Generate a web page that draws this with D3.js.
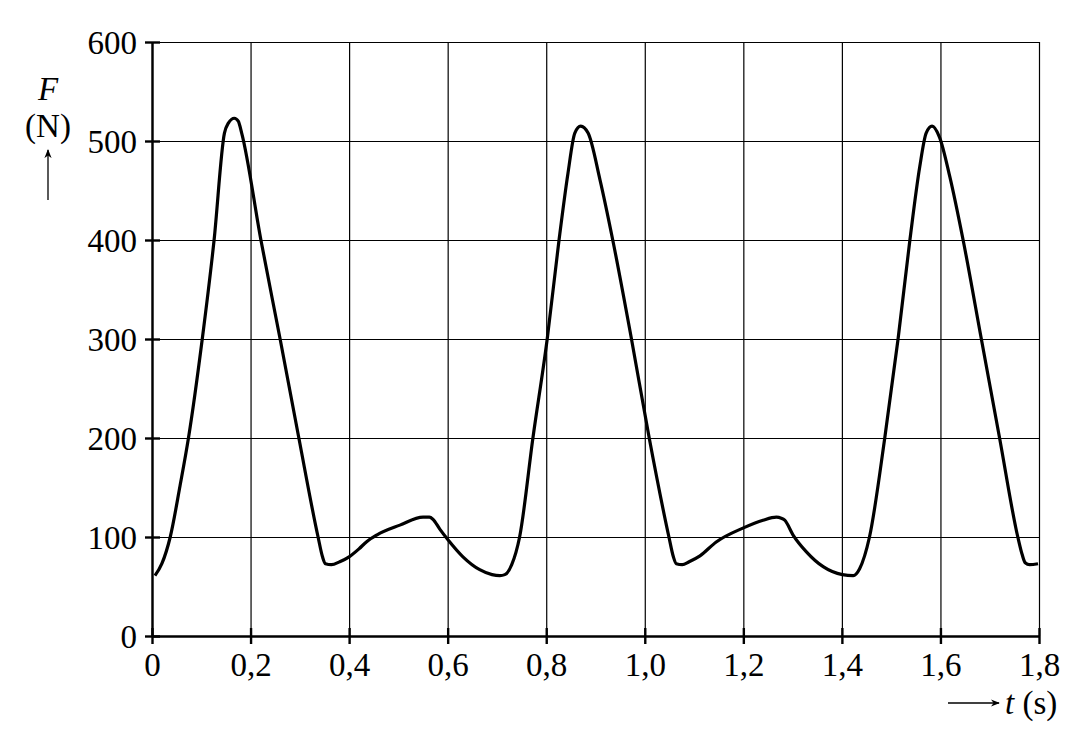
<!DOCTYPE html>
<html>
<head>
<meta charset="utf-8">
<script src="https://cdn.jsdelivr.net/npm/d3@7"></script>
<style>
  body { margin: 0; background: #fff; }
  text { font-family: "Liberation Serif", "Times New Roman", serif; fill: #000; }
</style>
</head>
<body>
<script>
// time (s) and force (N)
const tValues = [0.006, 0.020, 0.037, 0.057, 0.074, 0.102, 0.126, 0.147, 0.155, 0.167, 0.175, 0.182,
    0.221, 0.260, 0.298, 0.337, 0.346, 0.352, 0.364, 0.381, 0.400, 0.420, 0.435, 0.456,
    0.503, 0.550, 0.563, 0.570, 0.584, 0.601, 0.631, 0.665, 0.690, 0.706, 0.716, 0.730, 0.746,
    0.773, 0.802, 0.826, 0.844, 0.858, 0.870, 0.885, 0.909, 0.935, 0.973, 1.009,
    1.049, 1.058, 1.064, 1.076, 1.090, 1.112, 1.145, 1.199, 1.240, 1.267, 1.277, 1.284, 1.301,
    1.328, 1.362, 1.401, 1.423, 1.436, 1.456, 1.487, 1.514, 1.538, 1.558, 1.571, 1.583,
    1.598, 1.619, 1.646, 1.683, 1.720, 1.757, 1.766, 1.772, 1.781, 1.798]
const fValues = [61, 73, 100, 152, 200, 300, 400, 508, 518, 523, 520, 508,
    400, 300, 200, 100, 80, 73, 72, 75, 80, 88, 95, 102,
    112, 120, 120, 118, 108, 97, 80, 67, 62, 61, 62, 72, 100,
    200, 300, 400, 467, 508, 515, 508, 461, 400, 300, 200,
    100, 80, 73, 72, 75, 81, 95, 109, 117, 120, 119, 117, 102,
    85, 70, 62, 61, 68, 100, 200, 300, 400, 474, 508, 515,
    504, 464, 400, 300, 200, 100, 82, 74, 72, 73]

const xTicks = [0, 0.2, 0.4, 0.6, 0.8, 1.0, 1.2, 1.4, 1.6, 1.8]
const yTicks = [0, 100, 200, 300, 400, 500, 600]

const points = tValues.map((t, i) => ({ t: t, f: fValues[i] }))

const W = 1085, H = 743
const svg = d3.select('body').append('svg')
    .attr('width', W)
    .attr('height', H)

const x = d3.scaleLinear().domain([0, 1.8]).range([152, 1039])
const y = d3.scaleLinear().domain([0, 600]).range([636, 42])

const fmt = d => d === 0 ? '0' : d3.format('.1f')(d).replace('.', ',')

// grid
svg.append('g')
    .attr('class', 'grid-x')
    .attr('transform', 'translate(0,' + y(0) + ')')
    .call(d3.axisBottom(x).tickValues(xTicks).tickSize(-(y(0) - y(600))).tickFormat(''))
    .call(g => g.select('.domain').remove())
    .selectAll('line').attr('stroke', '#000').attr('stroke-width', 1.2)

svg.append('g')
    .attr('class', 'grid-y')
    .attr('transform', 'translate(' + x(0) + ',0)')
    .call(d3.axisLeft(y).tickValues(yTicks).tickSize(-(x(1.8) - x(0))).tickFormat(''))
    .call(g => g.select('.domain').remove())
    .selectAll('line').attr('stroke', '#000').attr('stroke-width', 1.2)

// x axis
const xAxis = svg.append('g')
    .attr('transform', 'translate(0,' + y(0) + ')')
    .call(d3.axisBottom(x).tickValues(xTicks).tickSize(8).tickSizeOuter(0).tickPadding(9).tickFormat(fmt))
xAxis.select('.domain').attr('stroke-width', 2.4)
xAxis.selectAll('.tick line').attr('y1', -8).attr('stroke-width', 2.4)
xAxis.selectAll('text').style('font-size', '33px')

// y axis
const yAxis = svg.append('g')
    .attr('transform', 'translate(' + x(0) + ',0)')
    .call(d3.axisLeft(y).tickValues(yTicks).tickSize(7).tickSizeOuter(0).tickPadding(8).tickFormat(d3.format('d')))
yAxis.select('.domain').attr('stroke-width', 2.4)
yAxis.selectAll('.tick line').attr('x1', 8).attr('stroke-width', 2.4)
yAxis.selectAll('text').style('font-size', '33px').attr('dy', '0.34em')

// curve
const line = d3.line()
    .x(d => x(d.t))
    .y(d => y(d.f))
    .curve(d3.curveMonotoneX)

svg.append('path')
    .datum(points)
    .attr('fill', 'none')
    .attr('stroke', '#000')
    .attr('stroke-width', 3.2)
    .attr('stroke-linejoin', 'round')
    .attr('d', line)

// arrow marker
svg.append('defs').append('marker')
    .attr('id', 'arr')
    .attr('viewBox', '0 0 10 10')
    .attr('refX', 9).attr('refY', 5)
    .attr('markerWidth', 9).attr('markerHeight', 9)
    .attr('markerUnits', 'userSpaceOnUse')
    .attr('orient', 'auto')
    .append('path')
    .attr('d', 'M0,1 L10,5 L0,9 L3,5 Z')
    .attr('fill', '#000')

// y label
svg.append('text')
    .attr('x', 48).attr('y', 100)
    .attr('text-anchor', 'middle')
    .style('font-size', '33px').style('font-style', 'italic')
    .text('F')
svg.append('text')
    .attr('x', 48).attr('y', 137)
    .attr('text-anchor', 'middle')
    .style('font-size', '33px')
    .text('(N)')
svg.append('line')
    .attr('x1', 48).attr('y1', 200).attr('x2', 48).attr('y2', 150)
    .attr('stroke', '#000').attr('stroke-width', 1.3)
    .attr('marker-end', 'url(#arr)')

// x label
svg.append('line')
    .attr('x1', 948).attr('y1', 703).attr('x2', 999).attr('y2', 703)
    .attr('stroke', '#000').attr('stroke-width', 1.3)
    .attr('marker-end', 'url(#arr)')
const xl = svg.append('text')
    .attr('x', 1005).attr('y', 714)
    .style('font-size', '33px')
xl.append('tspan').style('font-style', 'italic').text('t')
xl.append('tspan').text(' (s)')
</script>
</body>
</html>
